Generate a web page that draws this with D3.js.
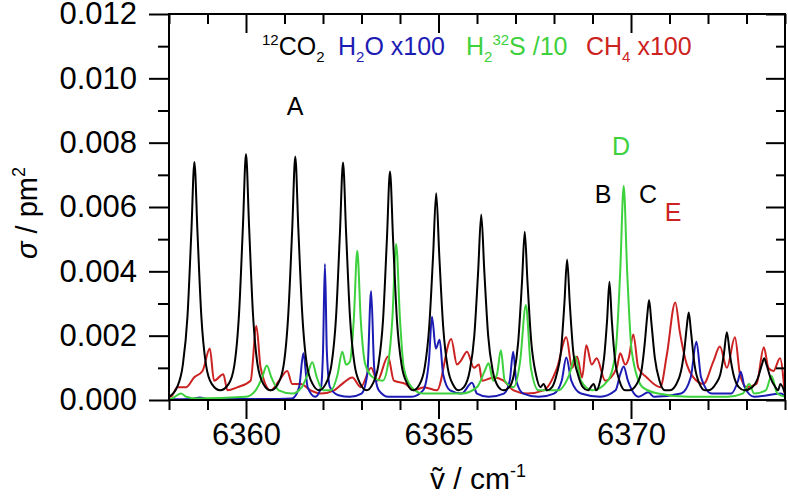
<!DOCTYPE html>
<html><head><meta charset="utf-8">
<script src="https://cdn.jsdelivr.net/npm/d3@7"></script>
<style>
body{margin:0;background:#fff}
text{font-family:"Liberation Sans",Arial,sans-serif}
</style>
</head><body>
<svg id="chart" width="788" height="496"></svg>
<script>
// ---- data (wavenumber / cm-1, cross section / pm^2) ----
const co2 = [
[6358.0,0.0001],[6358.21,0.0004],[6358.36,0.0011],[6358.48,0.0026],[6358.58,0.0052],[6358.66,0.0074],[6358.74,0.0052],[6358.84,0.0026],[6358.96,0.0011],[6359.11,0.0005],[6359.33,0.0003],
[6359.55,0.0005],[6359.70,0.0011],[6359.82,0.0027],[6359.92,0.0054],[6360.00,0.00765],[6360.08,0.0054],[6360.18,0.0027],[6360.30,0.0011],[6360.45,0.0005],[6360.64,0.0003],
[6360.83,0.0005],[6360.98,0.0011],[6361.10,0.0027],[6361.20,0.0053],[6361.28,0.00757],[6361.36,0.0053],[6361.46,0.0027],[6361.58,0.0011],[6361.73,0.0005],[6361.90,0.0003],
[6362.07,0.0005],[6362.22,0.0011],[6362.34,0.0026],[6362.44,0.0052],[6362.52,0.00738],[6362.60,0.0052],[6362.70,0.0026],[6362.82,0.0011],[6362.97,0.0005],[6363.13,0.0003],
[6363.29,0.0005],[6363.44,0.0011],[6363.56,0.0025],[6363.66,0.0050],[6363.74,0.0071],[6363.82,0.0050],[6363.92,0.0025],[6364.04,0.0011],[6364.19,0.0005],[6364.34,0.0003],
[6364.49,0.00045],[6364.64,0.0010],[6364.76,0.0023],[6364.86,0.0045],[6364.94,0.00643],[6365.02,0.0045],[6365.12,0.0023],[6365.24,0.0010],[6365.39,0.00045],[6365.52,0.0003],
[6365.66,0.0004],[6365.81,0.0009],[6365.93,0.0020],[6366.03,0.0040],[6366.11,0.00577],[6366.19,0.0040],[6366.29,0.0020],[6366.41,0.0009],[6366.56,0.0004],[6366.68,0.0003],
[6366.84,0.0004],[6366.96,0.0008],[6367.07,0.0018],[6367.17,0.0037],[6367.24,0.00523],[6367.31,0.0037],[6367.41,0.0018],[6367.53,0.0008],[6367.65,0.0004],[6367.73,0.0005],[6367.82,0.0003],
[6367.95,0.0004],[6368.07,0.0008],[6368.18,0.0015],[6368.27,0.0030],[6368.34,0.00437],[6368.41,0.0030],[6368.50,0.0015],[6368.62,0.0008],[6368.75,0.0004],[6368.88,0.0003],[6369.03,0.0005],[6369.10,0.0003],
[6369.20,0.0006],[6369.30,0.0013],[6369.38,0.0025],[6369.44,0.00368],[6369.50,0.0025],[6369.58,0.0013],[6369.70,0.0006],[6369.85,0.0003],[6369.95,0.0003],
[6370.15,0.0005],[6370.27,0.0009],[6370.36,0.0018],[6370.42,0.0026],[6370.47,0.00311],[6370.53,0.0024],[6370.62,0.0013],[6370.74,0.0006],[6370.88,0.0003],[6371.00,0.0003],
[6371.18,0.0005],[6371.30,0.0009],[6371.39,0.0016],[6371.45,0.0023],[6371.50,0.00272],[6371.56,0.0021],[6371.65,0.0011],[6371.78,0.0005],[6371.92,0.0003],[6372.00,0.0003],
[6372.20,0.0005],[6372.32,0.0008],[6372.41,0.0014],[6372.49,0.00211],[6372.57,0.0014],[6372.66,0.0008],[6372.80,0.0004],[6372.95,0.0003],
[6373.15,0.0004],[6373.30,0.0007],[6373.40,0.0011],[6373.46,0.0013],[6373.52,0.0011],[6373.62,0.0007],[6373.75,0.0004],[6373.82,0.0003],[6373.88,0.0005],[6374.0,0.0002]
];
const h2o = [
[6358.0,0.00002],[6358.6,0.00003],[6358.8,0.00008],[6359.0,0.00003],[6360.5,0.00003],[6361.2,0.00005],[6361.38,0.0004],[6361.49,0.00145],[6361.6,0.0004],[6361.8,0.0001],
[6361.95,0.0004],[6362.0,0.0015],[6362.05,0.00423],[6362.1,0.0015],[6362.18,0.0004],[6362.4,0.00015],[6362.7,0.0001],[6363.0,0.0002],[6363.15,0.0008],[6363.25,0.00339],
[6363.33,0.0010],[6363.45,0.0003],[6363.7,0.0001],[6364.3,0.0001],[6364.6,0.0003],[6364.75,0.0012],[6364.83,0.00259],[6364.93,0.0016],[6365.03,0.00187],[6365.12,0.0008],
[6365.3,0.0003],[6365.6,0.0002],[6365.87,0.00054],[6366.0,0.0002],[6366.3,0.0001],[6366.7,0.0002],[6366.85,0.0006],[6366.94,0.0015],[6367.02,0.0006],[6367.2,0.0002],
[6367.6,0.0001],[6368.0,0.0002],[6368.2,0.0006],[6368.32,0.00132],[6368.45,0.0006],[6368.7,0.0002],[6369.2,0.0001],[6369.6,0.0003],[6369.72,0.0008],[6369.81,0.00104],
[6369.92,0.0006],[6370.2,0.0001],[6370.45,0.00024],[6370.6,0.0001],[6371.3,0.0002],[6371.55,0.0007],[6371.7,0.00181],[6371.82,0.0007],[6372.1,0.0002],[6372.6,0.0002],
[6372.78,0.0006],[6372.85,0.00088],[6372.95,0.0004],[6373.2,0.0001],[6373.9,0.0002],[6374.0,0.0001]
];
const h2s = [
[6358.0,0.0],[6358.15,0.0001],[6358.31,0.0002],[6358.45,0.0001],[6358.7,0.00005],[6360.0,0.0001],[6360.25,0.0003],[6360.42,0.0007],[6360.54,0.00107],[6360.66,0.0007],
[6360.85,0.0003],[6361.2,0.0002],[6361.45,0.0004],[6361.6,0.0008],[6361.72,0.00117],[6361.84,0.0007],[6362.0,0.0003],[6362.2,0.0003],[6362.38,0.0008],[6362.5,0.0015],
[6362.6,0.0011],[6362.7,0.0012],[6362.8,0.0025],[6362.89,0.00464],[6362.98,0.0025],[6363.1,0.0011],[6363.3,0.0007],[6363.55,0.0006],[6363.7,0.0012],[6363.8,0.0025],
[6363.9,0.00485],[6364.0,0.0025],[6364.1,0.0010],[6364.3,0.0004],[6364.6,0.0002],[6364.9,0.0002],[6365.6,0.0002],[6366.0,0.0004],[6366.2,0.0009],[6366.3,0.00114],
[6366.42,0.0006],[6366.52,0.0008],[6366.62,0.00155],[6366.72,0.0006],[6366.95,0.0004],[6367.12,0.0012],[6367.27,0.00295],[6367.4,0.0010],[6367.6,0.0003],[6368.1,0.0003],
[6368.4,0.0008],[6368.55,0.00135],[6368.7,0.0006],[6369.0,0.0003],[6369.4,0.0006],[6369.6,0.0015],[6369.72,0.0040],[6369.81,0.00665],[6369.9,0.0040],[6370.02,0.0015],
[6370.3,0.0004],[6370.7,0.0002],[6371.5,0.0001],[6372.5,0.0001],[6372.9,0.0002],[6373.07,0.0005],[6373.2,0.0002],[6373.5,0.0003],[6373.65,0.00075],[6373.8,0.0002],[6374.0,0.0001]
];
const ch4 = [
[6358.0,0.0001],[6358.05,0.0001],[6358.22,0.0004],[6358.45,0.0004],[6358.65,0.0007],[6358.87,0.0009],[6359.06,0.0016],[6359.17,0.0006],[6359.41,0.0008],[6359.52,0.0003],
[6359.78,0.0004],[6360.12,0.0006],[6360.27,0.0023],[6360.38,0.0010],[6360.64,0.0003],[6360.86,0.0006],[6361.07,0.0009],[6361.2,0.0005],[6361.42,0.0005],[6361.68,0.0003],
[6361.94,0.0002],[6362.29,0.0003],[6362.5,0.0005],[6362.76,0.0007],[6362.98,0.0004],[6363.25,0.0010],[6363.41,0.0006],[6363.69,0.00135],[6363.84,0.0006],[6364.14,0.0005],
[6364.36,0.0003],[6364.62,0.0004],[6364.96,0.0003],[6365.33,0.0019],[6365.48,0.0011],[6365.57,0.0012],[6365.74,0.0015],[6365.92,0.0010],[6366.05,0.0011],[6366.13,0.0006],
[6366.43,0.0007],[6366.69,0.0006],[6366.95,0.0003],[6367.3,0.0002],[6367.73,0.0003],[6368.08,0.0010],[6368.32,0.00195],[6368.47,0.0010],[6368.6,0.00135],[6368.73,0.0007],
[6368.84,0.0017],[6368.98,0.0011],[6369.11,0.0013],[6369.33,0.0006],[6369.63,0.0010],[6369.72,0.00145],[6369.85,0.0011],[6369.94,0.0013],[6370.06,0.00204],[6370.19,0.0010],
[6370.41,0.0007],[6370.76,0.0004],[6370.93,0.0014],[6371.15,0.00303],[6371.27,0.0021],[6371.45,0.0011],[6371.62,0.0007],[6371.88,0.0005],[6372.14,0.0012],[6372.31,0.00166],
[6372.49,0.0010],[6372.7,0.00195],[6372.83,0.0008],[6373.0,0.0004],[6373.26,0.0005],[6373.45,0.00164],[6373.57,0.0010],[6373.7,0.0009],[6373.87,0.0013],[6374.0,0.0001]
];
const xTickValues = d3.range(6358, 6375, 1);
const xLabelValues = [6360, 6365, 6370];
const yTickValues = d3.range(0, 13, 1).map(v => v / 1000);
const yLabelValues = [0, 0.002, 0.004, 0.006, 0.008, 0.010, 0.012];

const colors = {co2:"#000000", h2o:"#1c1cb4", h2s:"#3dd13d", ch4:"#cc2222"};

const W = 788, H = 496;
const m = {left:169, right:3, top:14, bottom:96};
const svg = d3.select("#chart");
const x = d3.scaleLinear().domain([6358, 6374]).range([m.left, W - m.right]);
const y = d3.scaleLinear().domain([0, 0.012]).range([H - m.bottom, m.top]);

const isMajorX = v => xLabelValues.includes(v);
const isMajorY = v => yLabelValues.some(l => Math.abs(l - v) < 1e-9);

svg.append("defs").append("clipPath").attr("id","clip")
  .append("rect").attr("x", m.left).attr("y", m.top).attr("width", x.range()[1]-m.left).attr("height", y.range()[0]-m.top);

const line = d3.line().x(d => x(d[0])).y(d => y(d[1])).curve(d3.curveMonotoneX);
const gSeries = svg.append("g").attr("clip-path","url(#clip)");
[["ch4",ch4],["h2o",h2o],["h2s",h2s],["co2",co2]].forEach(([k, data]) => {
  gSeries.append("path").datum(data).attr("d", line)
    .attr("fill","none").attr("stroke", colors[k]).attr("stroke-width", 2)
    .attr("stroke-linejoin","round");
});

function styleAxis(sel){
  sel.select(".domain").remove();
  sel.selectAll("line").attr("stroke","#000").attr("stroke-width",2);
  sel.selectAll("text").attr("font-size", 31).attr("fill","#000")
     .attr("font-family", '"Liberation Sans", Arial, sans-serif');
}
const axB = svg.append("g").attr("transform", `translate(0,${y(0)})`)
  .call(d3.axisBottom(x).tickValues(xTickValues).tickSize(19).tickPadding(4)
    .tickFormat(v => isMajorX(v) ? d3.format("d")(v) : ""));
axB.selectAll(".tick line").attr("y2", v => isMajorX(v) ? 19 : 10);
styleAxis(axB);

const axT = svg.append("g").attr("transform", `translate(0,${y(0.012)})`)
  .call(d3.axisTop(x).tickValues(xTickValues).tickSize(-19).tickFormat(""));
axT.selectAll(".tick line").attr("y2", v => isMajorX(v) ? 19 : 10);
styleAxis(axT);

const axL = svg.append("g").attr("transform", `translate(${x(6358)},0)`)
  .call(d3.axisLeft(y).tickValues(yTickValues).tickSize(20).tickPadding(12)
    .tickFormat(v => isMajorY(v) ? d3.format(".3f")(v) : ""));
axL.selectAll(".tick line").attr("x2", v => isMajorY(v) ? -20 : -11);
styleAxis(axL);

const axR = svg.append("g").attr("transform", `translate(${x(6374)},0)`)
  .call(d3.axisRight(y).tickValues(yTickValues).tickSize(-19).tickFormat(""));
axR.selectAll(".tick line").attr("x2", v => isMajorY(v) ? -19 : -9);
styleAxis(axR);

svg.append("rect").attr("x", x(6358)).attr("y", y(0.012))
  .attr("width", x(6374)-x(6358)).attr("height", y(0)-y(0.012))
  .attr("fill","none").attr("stroke","#000").attr("stroke-width",2);

const xt = svg.append("text").attr("x", 478).attr("y", 489).attr("text-anchor","middle")
  .attr("font-size", 30);
xt.append("tspan").text("\u1E7D / cm");
xt.append("tspan").attr("dy", -12).attr("font-size", 18).text("-1");

const yt = svg.append("text").attr("transform","translate(37,213) rotate(-90)")
  .attr("text-anchor","middle").attr("font-size", 29);
yt.append("tspan").attr("font-style","italic").text("\u03C3");
yt.append("tspan").text(" / pm");
yt.append("tspan").attr("dy", -12).attr("font-size", 18).text("2");

// legend: each entry placed separately
const legY = 55, legFs = 25, subFs = 15;
function legendEntry(xPos, color, parts){
  const t = svg.append("text").attr("x", xPos).attr("y", legY).attr("font-size", legFs).attr("fill", color);
  let cur = 0;
  parts.forEach(([txt, kind]) => {
    const target = kind === "sup" ? -10 : kind === "sub" ? 7 : 0;
    t.append("tspan").attr("dy", target - cur).attr("font-size", kind ? subFs : legFs).text(txt);
    cur = target;
  });
}
legendEntry(262, colors.co2, [["12","sup"],["CO",null],["2","sub"]]);
legendEntry(338, colors.h2o, [["H",null],["2","sub"],["O x100",null]]);
legendEntry(466, colors.h2s, [["H",null],["2","sub"],["32","sup"],["S /10",null]]);
legendEntry(586, colors.ch4, [["CH",null],["4","sub"],[" x100",null]]);

const labels = [["A",295,115,colors.co2],["D",621,155,colors.h2s],["B",603,203,colors.co2],["C",648,203,colors.co2],["E",673,221,colors.ch4]];
labels.forEach(([t,lx,ly,c]) => svg.append("text").attr("x",lx).attr("y",ly)
  .attr("text-anchor","middle").attr("font-size",25).attr("fill",c).text(t));
</script>
</body></html>
